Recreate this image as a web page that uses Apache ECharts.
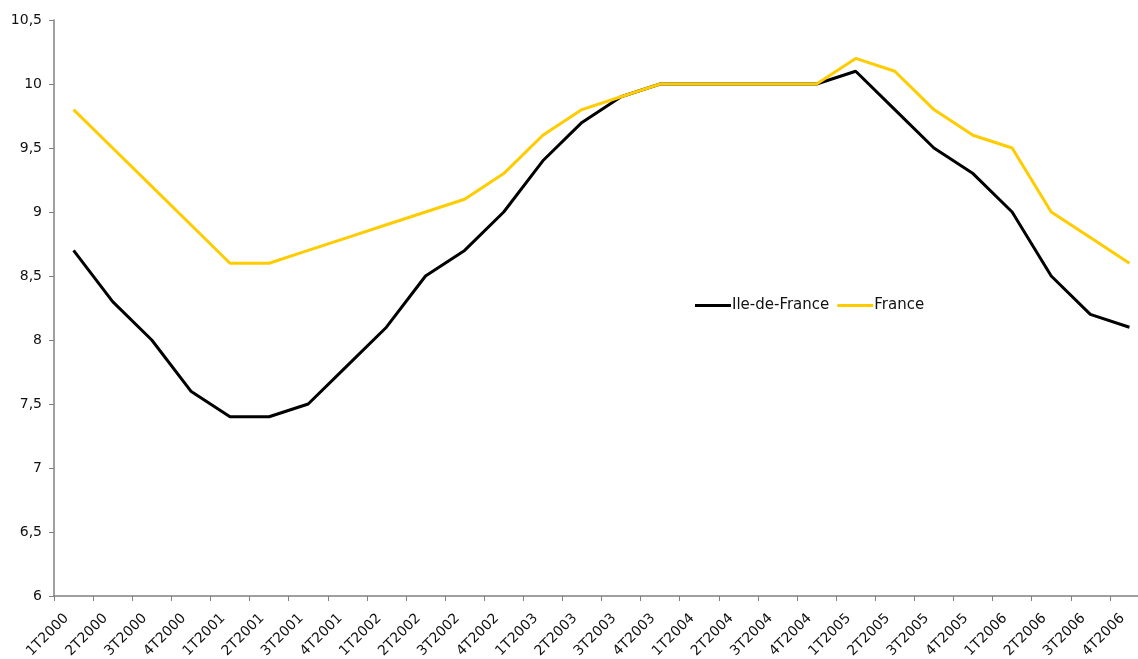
<!DOCTYPE html>
<html>
<head>
<meta charset="utf-8">
<script src="https://cdn.jsdelivr.net/npm/echarts@6/dist/echarts.min.js"></script>
<style>
html,body{margin:0;padding:0;background:#fff;}
#chart{width:1138px;height:659px;}
</style>
</head>
<body>
<div id="chart"></div>
<script>
const categories = ['1T2000','2T2000','3T2000','4T2000','1T2001','2T2001','3T2001','4T2001',
  '1T2002','2T2002','3T2002','4T2002','1T2003','2T2003','3T2003','4T2003',
  '1T2004','2T2004','3T2004','4T2004','1T2005','2T2005','3T2005','4T2005',
  '1T2006','2T2006','3T2006','4T2006'];
const ileDeFrance = [8.7,8.3,8.0,7.6,7.4,7.4,7.5,7.8,8.1,8.5,8.7,9.0,9.4,9.7,9.9,10.0,10.0,10.0,10.0,10.0,10.1,9.8,9.5,9.3,9.0,8.5,8.2,8.1];
const france = [9.8,9.5,9.2,8.9,8.6,8.6,8.7,8.8,8.9,9.0,9.1,9.3,9.6,9.8,9.9,10.0,10.0,10.0,10.0,10.0,10.2,10.1,9.8,9.6,9.5,9.0,8.8,8.6];

const chart = echarts.init(document.getElementById('chart'));
const font = 'DejaVu Sans';
chart.setOption({
  animation: false,
  textStyle: {fontFamily: font},
  legend: {
    left: 690, top: 293,
    icon: 'rect', itemWidth: 36, itemHeight: 3, itemGap: 8,
    textStyle: {fontFamily: font, fontSize: 15, color: '#111', padding: [0,0,0,-4]},
    data: ['Ile-de-France','France']
  },
  grid: {left: 54, top: 20, width: 1095, height: 576, containLabel: false, outerBoundsMode: 'none'},
  xAxis: {
    type: 'category', data: categories, boundaryGap: true,
    axisLine: {lineStyle: {color: '#808080', width: 1.5}},
    axisTick: {show: true, alignWithLabel: false, length: 5, lineStyle: {color: '#808080'}},
    axisLabel: {rotate: 45, interval: 0, fontFamily: font, fontSize: 14, color: '#111', margin: 13,
      padding: [0, 10, 0, 0]},
    splitLine: {show: false}
  },
  yAxis: {
    type: 'value', min: 6, max: 10.5, interval: 0.5,
    axisLine: {show: true, lineStyle: {color: '#808080', width: 1.5}},
    axisTick: {show: true, length: 5, lineStyle: {color: '#808080'}},
    axisLabel: {fontFamily: font, fontSize: 14, color: '#111', margin: 12,
      formatter: v => String(v).replace('.', ',')},
    splitLine: {show: false}
  },
  series: [
    {name: 'Ile-de-France', type: 'line', data: ileDeFrance, symbol: 'none',
     lineStyle: {color: '#000000', width: 3}, itemStyle: {color: '#000000'}},
    {name: 'France', type: 'line', data: france, symbol: 'none',
     lineStyle: {color: '#FFCC00', width: 3}, itemStyle: {color: '#FFCC00'}}
  ]
});
</script>
</body>
</html>
